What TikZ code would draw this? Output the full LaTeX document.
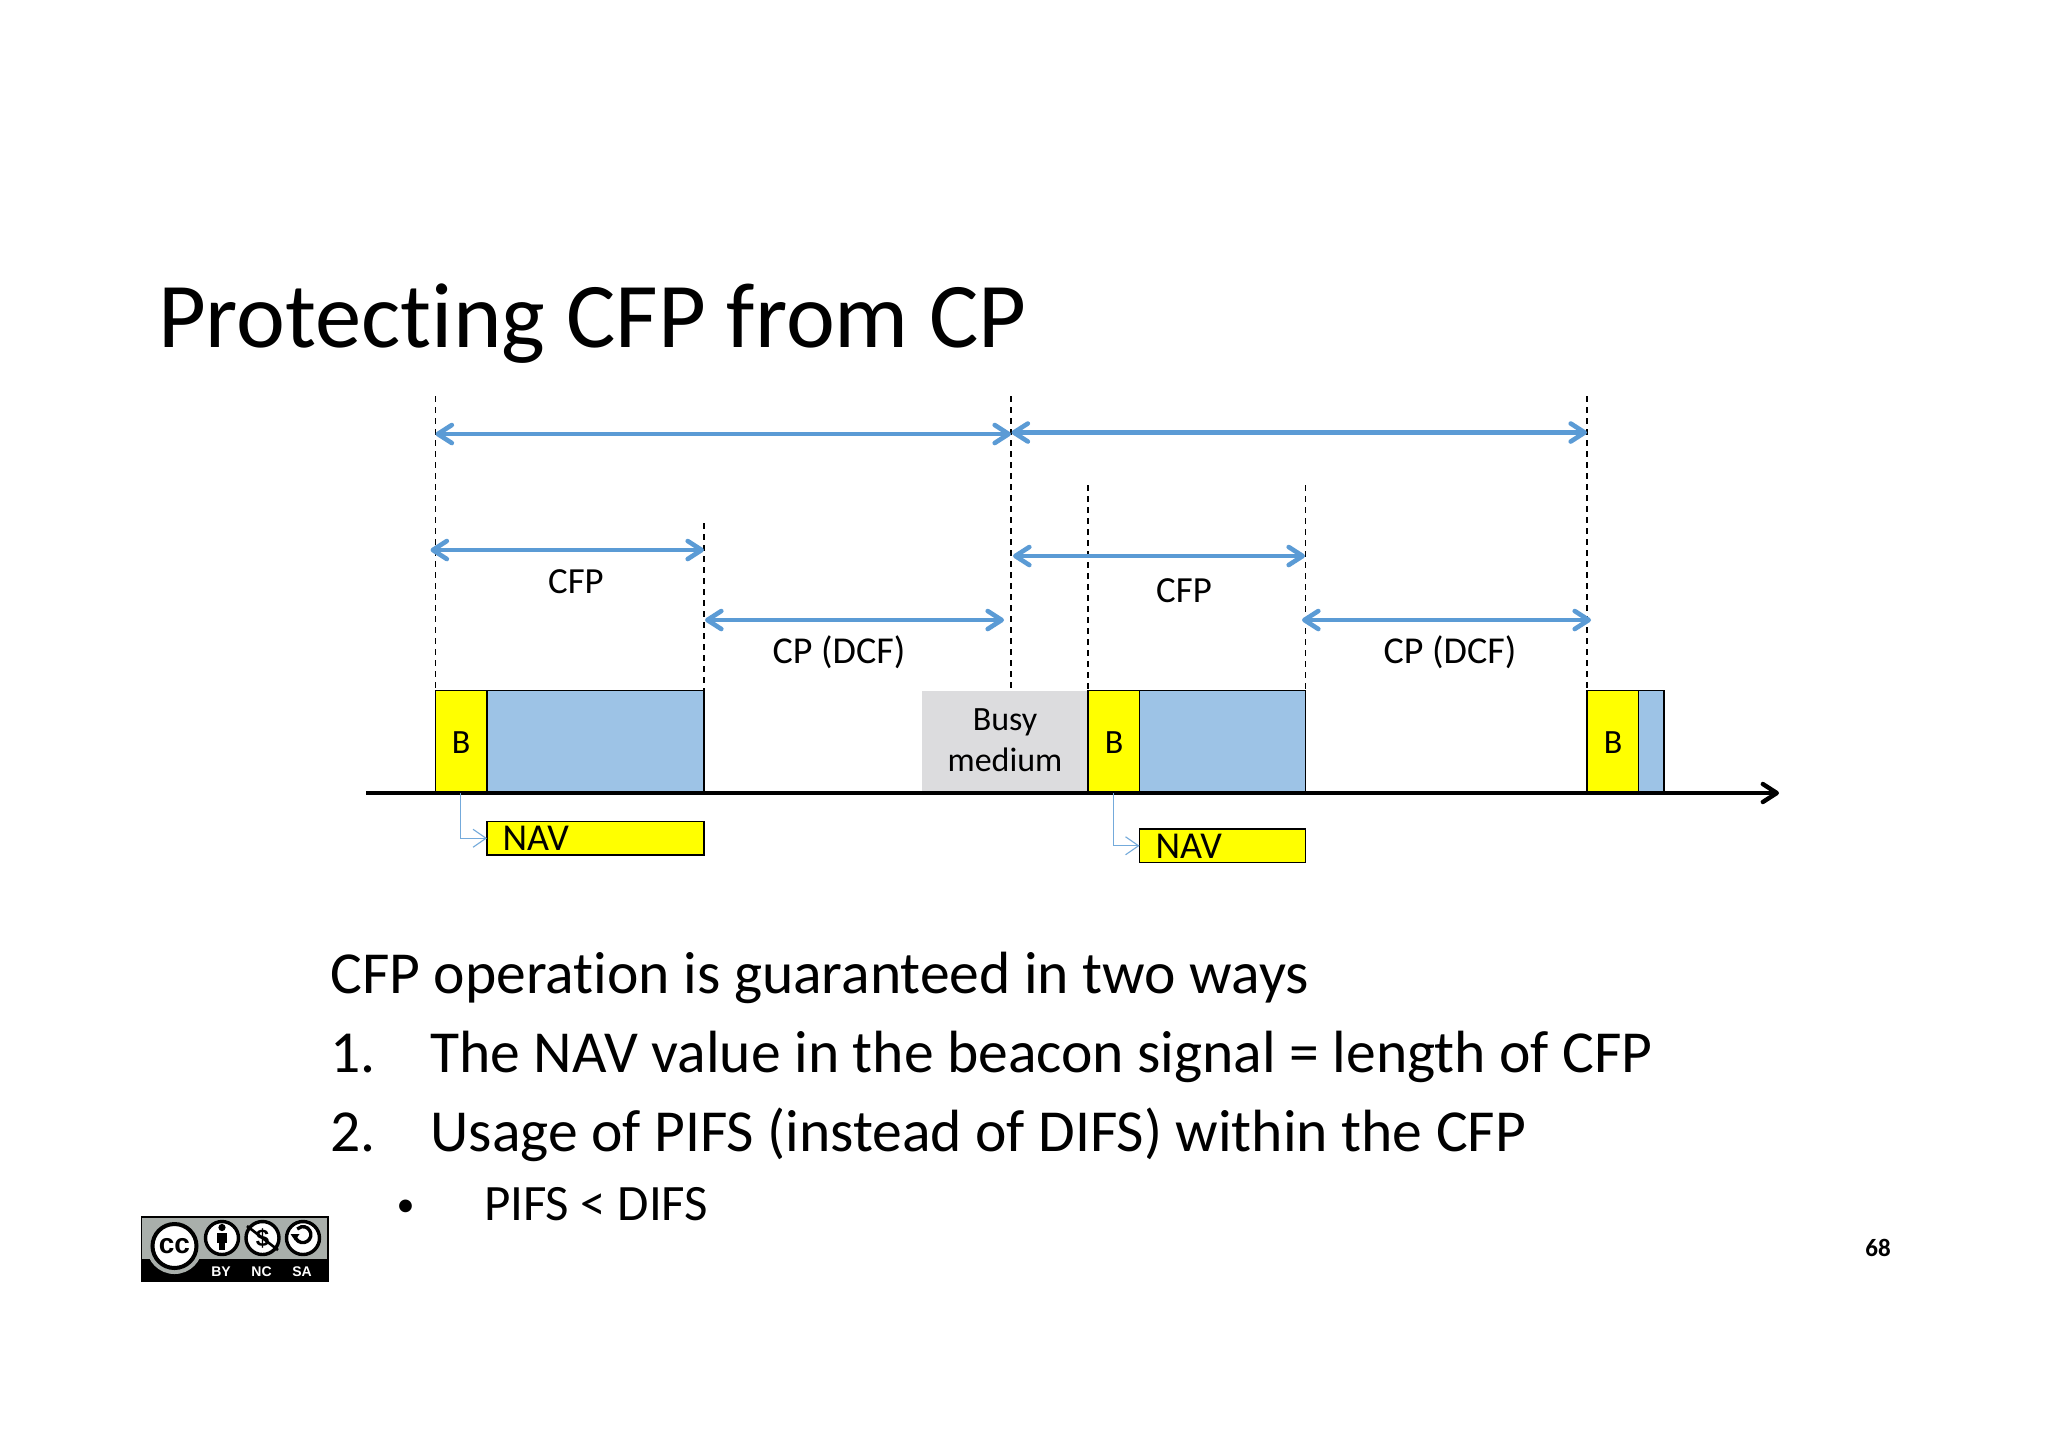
\documentclass[tikz,border=0pt]{standalone}
\usepackage{fontspec}
\setmainfont{Carlito}[Ligatures={NoCommon}]
\newfontfamily\badgefont{Liberation Sans}
\usetikzlibrary{arrows.meta}
\definecolor{arrowblue}{HTML}{5B9BD5}
\definecolor{fillblue}{HTML}{9DC3E6}
\definecolor{busygrey}{HTML}{DCDCDE}
\definecolor{badgegrey}{HTML}{A9AFAB}
\definecolor{pureyellow}{RGB}{255,255,0}
\newcommand{\slotbox}[7]{%
  \pgfmathsetmacro\slotw{(#5-#3)*0.5}%
  \pgfmathsetmacro\sloth{(#6-#4)*0.5}%
  \node[#2,minimum width=\slotw pt,minimum height=\sloth pt,anchor=north west,inner sep=0pt,outer sep=0pt,align=center] (#1) at (#3,#4) {#7};}
\newcommand{\fs}[1]{\fontsize{#1}{#1}\selectfont}
\tikzset{
  x=0.5pt,y=-0.5pt,
  framebox/.style={draw=black,line width=0.7pt},
  vdash/.style={draw=black,line width=0.7pt,dash pattern=on 3pt off 2.5pt},
  span/.style={draw=arrowblue,line width=2.2pt,{Straight Barb[round,length=7pt,width=9pt,line width=2.3pt]}-{Straight Barb[round,length=7pt,width=9pt,line width=2.3pt]}},
  axisline/.style={draw=black,line width=2.2pt,-{Straight Barb[round,length=7pt,width=9pt,line width=2.2pt]}},
  navlink/.style={draw=arrowblue!85,line width=0.55pt,-{Straight Barb[length=6.5pt,width=9pt,line width=0.55pt]}},
  txt/.style={anchor=base west,inner sep=0pt,outer sep=0pt},
  mid/.style={anchor=base,inner sep=0pt,outer sep=0pt},
  icon/.style={draw=black,fill=white,line width=1.7pt,circle,inner sep=0pt,minimum size=16.5pt},
}
\begin{document}
\begin{tikzpicture}
\fill[white] (0,0) rectangle (2048,1448);
\useasboundingbox (0,0) rectangle (2048,1448);

\node[txt] (title) at (158,347.5) {\fs{46.3}Protecting CFP from CP};

% boxes
\slotbox{busy}{fill=busygrey}{922}{690.5}{1088}{793}{}
\slotbox{b1}{framebox,fill=pureyellow}{435.5}{690.5}{487}{793}{}
\slotbox{d1}{framebox,fill=fillblue}{487}{690.5}{704}{793}{}
\slotbox{b2}{framebox,fill=pureyellow}{1088}{690.5}{1139.5}{793}{}
\slotbox{d2}{framebox,fill=fillblue}{1139.5}{690.5}{1305.5}{793}{}
\slotbox{b3}{framebox,fill=pureyellow}{1587}{690.5}{1638.5}{793}{}
\slotbox{d3}{framebox,fill=fillblue}{1638.5}{690.5}{1664}{793}{}
\slotbox{n1}{framebox,fill=pureyellow}{487}{821.5}{704}{855}{}
\slotbox{n2}{framebox,fill=pureyellow}{1139.5}{829}{1305.5}{862.5}{}

\node[mid] (tb1) at (461,753.5) {\fs{17}B};
\node[mid] (tb2) at (1114,753.5) {\fs{17}B};
\node[mid] (tb3) at (1613,753.5) {\fs{17}B};
\node[mid] (tbusy1) at (1005,730.5) {\fs{17}Busy};
\node[mid] (tbusy2) at (1005,771.5) {\fs{17}medium};
\node[txt] (tn1) at (502.5,850.5) {\fs{19}NAV};
\node[txt] (tn2) at (1155.5,858.5) {\fs{19}NAV};

% vertical dashed guides
\coordinate (g1) at (435.5,396);
\coordinate (g2) at (1011,396);
\coordinate (g2b) at (1011,690.5);
\coordinate (g3) at (1587,396);
\coordinate (g4) at (704,523);
\coordinate (g5) at (1088,485);
\coordinate (g6) at (1305.5,485);
\draw[vdash] (g1) -- (b1.north west);
\draw[vdash] (g2) -- (g2b);
\draw[vdash] (g3) -- (b3.north west);
\draw[vdash] (g4) -- (d1.north east);
\draw[vdash] (g5) -- (b2.north west);
\draw[vdash] (g6) -- (d2.north east);

% spans
\coordinate (a1l) at (435.5,434); \coordinate (a1r) at (1011,434);
\coordinate (a2l) at (1011.5,432.5); \coordinate (a2r) at (1587,432.5);
\coordinate (a3l) at (430.5,550); \coordinate (a3r) at (704,550);
\coordinate (a4l) at (705,620); \coordinate (a4r) at (1004,620);
\coordinate (a5l) at (1013,556); \coordinate (a5r) at (1305,556);
\coordinate (a6l) at (1302,620); \coordinate (a6r) at (1591,620);
\draw[span] (a1l) -- (a1r);
\draw[span] (a2l) -- (a2r);
\draw[span] (a3l) -- (a3r);
\draw[span] (a4l) -- (a4r);
\draw[span] (a5l) -- (a5r);
\draw[span] (a6l) -- (a6r);

\node[mid] (cfp1) at (576,593.5) {\fs{18.4}CFP};
\node[mid] (cfp2) at (1184,602) {\fs{18.4}CFP};
\node[mid] (cp1) at (839,663) {\fs{19}CP (DCF)};
\node[mid] (cp2) at (1450,663) {\fs{19}CP (DCF)};

% time axis
\coordinate (ax0) at (366,793);
\coordinate (ax1) at (1779,793);
\draw[axisline] (ax0) -- (ax1);

% NAV links
\coordinate (l1) at (460.5,793);
\coordinate (l2) at (1113.5,793);
\draw[navlink] (l1) |- (n1.west);
\draw[navlink] (l2) |- (n2.west);

% body text
\node[txt] (l0) at (330.5,993.5) {\fs{29.8}CFP operation is guaranteed in two ways};
\node[txt] (n1t) at (330.5,1072.5) {\fs{29.8}1.};
\node[txt] (l1t) at (430.5,1072.5) {\fs{29.8}The NAV value in the beacon signal = length of CFP};
\node[txt] (n2t) at (330.5,1151) {\fs{29.8}2.};
\node[txt] (l2t) at (430.5,1151) {\fs{29.8}Usage of PIFS (instead of DIFS) within the CFP};
\node[mid] (bul) at (405.5,1216) {\fs{18}•};
\node[txt] (l3t) at (484,1220) {\fs{25.5}PIFS < DIFS};
\node[mid] (pg) at (1878,1256.5) {\fs{12.5}\bfseries 68};

% licence badge
\fill[badgegrey] (141.5,1217) rectangle (328,1260);
\fill[black] (141.5,1259) rectangle (328,1281);
\draw[black,line width=0.6pt] (141.5,1217) rectangle (328,1281);
\fill[badgegrey] (174.5,1246) circle[radius=28];
\node[icon,minimum size=22pt,line width=2pt] (cc) at (174.5,1246) {\badgefont\bfseries\fs{14}cc};
\node[icon] (by) at (222,1238) {};
\fill[black] (222,1227.5) circle[radius=3.6];
\fill[black] (217,1232.5) rectangle (227,1243);
\fill[black] (219,1243) rectangle (225,1250);
\node[icon] (nc) at (262.5,1238) {\badgefont\bfseries\fs{12}\$};
\draw[black,line width=1.3pt] (247,1226) -- (278,1250);
\node[icon] (sa) at (303,1238) {};
\draw[black,line width=1.7pt] (295,1236) arc[start angle=170,end angle=-135,radius=8];
\fill[black] (290.5,1234) -- (299.5,1234) -- (295,1240.5) -- cycle;
\node[mid,text=white] (tby) at (221,1276) {\badgefont\bfseries\fs{7}BY};
\node[mid,text=white] (tnc) at (261.5,1276) {\badgefont\bfseries\fs{7}NC};
\node[mid,text=white] (tsa) at (302,1276) {\badgefont\bfseries\fs{7}SA};
\end{tikzpicture}
\end{document}
